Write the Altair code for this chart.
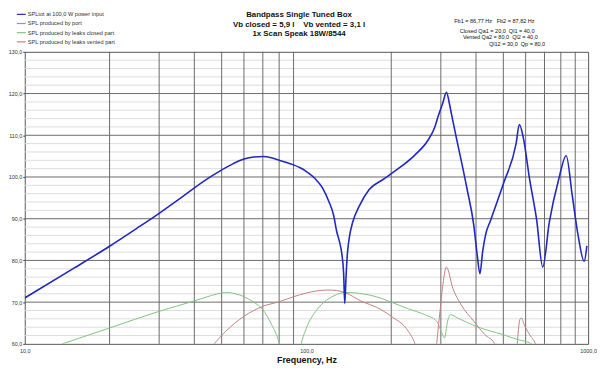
import altair as alt
import pandas as pd

# ---------------- data ----------------
blue_f = [10, 15, 20, 25, 30, 35, 40, 45, 48.9, 55, 60, 65, 70.3, 75, 80, 85, 90, 95,
          100, 107, 114, 120, 125, 128, 131, 133.6, 135.5, 136.8, 138.2, 139.6,
          142, 146, 154, 167, 187, 207, 243, 270, 285, 293, 305, 314, 322, 327, 340,
          354, 372, 393, 404, 413, 422, 432, 451, 501, 555, 570, 588, 620, 656, 690,
          728, 786, 836, 879, 922, 968, 990]
blue_db = [71.0, 78.2, 83.4, 87.7, 91.3, 94.5, 97.4, 99.8, 101.3, 103.2, 104.3, 104.8,
           104.9, 104.6, 104.0, 103.5, 102.9, 102.2, 101.3, 99.7, 97.4, 94.2, 90.7,
           87.0, 84.5, 81.5, 77.0, 69.7, 76.0, 81.2, 85.5, 89.2, 93.0, 97.0, 99.4, 101.5,
           105.3, 108.8, 111.8, 114.4, 117.8, 120.3, 117.5, 115.2, 109.6, 104.1, 97.0,
           88.3, 81.2, 76.8, 82.0, 86.0, 89.7, 98.5, 108.0, 112.6, 109.6, 99.4, 89.9,
           78.4, 89.1, 99.4, 105.1, 95.4, 85.9, 79.8, 83.5]

green_f = [13.6, 20, 30, 40, 46, 50, 52.5, 56, 60, 65, 70, 75.2, 80, 83, 88, 93, 96, 100,
           109, 118, 125, 137, 150, 158, 177, 200, 230, 263, 290, 301, 309, 317, 325,
           344, 400, 500, 564, 580, 606, 630, 660]
green_db = [60.0, 63.8, 67.8, 70.3, 71.6, 72.2, 72.3, 72.0, 71.3, 70.0, 68.2, 64.6, 60.2,
            55.0, 40.0, 55.0, 60.2, 63.8, 68.2, 70.5, 71.5, 72.3, 72.2, 72.0, 71.3, 70.0,
            68.4, 67.0, 65.4, 63.0, 61.4, 65.4, 67.0, 66.2, 64.2, 62.2, 61.0, 60.8, 60.5,
            60.0, 59.0]

red_f = [45, 47, 51.7, 60, 70, 80, 90, 109, 118, 128, 137, 158, 177, 200, 230, 243, 255,
         270, 283, 290, 298, 304, 314, 331, 354, 393, 430, 466, 490, 520, 550, 560, 572,
         580, 593, 620, 650, 680]
red_db = [58.5, 60.0, 63.0, 66.6, 69.0, 70.1, 71.3, 72.7, 72.9, 72.8, 72.3, 70.1, 68.8,
          66.6, 63.0, 60.0, 55.0, 45.0, 52.0, 60.0, 67.8, 73.3, 78.4, 73.3, 69.4, 65.4,
          62.2, 60.0, 56.0, 50.0, 55.0, 60.0, 65.8, 66.2, 64.6, 62.2, 60.0, 55.0]

series_names = ["SPLtot at 100,0 W power input", "SPL produced by port",
                "SPL produced by leaks closed part", "SPL produced by leaks vented part"]
series_colors = ["#2028c0", "#8c8cf0", "#80c480", "#c48080"]

y_major = [70, 80, 90, 100, 110, 120]
y_minor = [v for v in range(62, 130, 2) if v % 10 != 0]
x_grid = [20, 30, 40, 50, 60, 70, 80, 90, 200, 300, 400, 500, 600, 700, 800, 900]
x_labels = [10, 100, 1000]
y_labels = [60, 70, 80, 90, 100, 110, 120, 130]

NB = "\u00a0"
title_lines = ["Bandpass Single Tuned Box",
               "Vb closed = 5,9 l" + NB * 4 + "Vb vented = 3,1 l",
               "1x Scan Speak 18W/8544"]
param_lines = ["Fb1 = 86,77 Hz" + NB * 3 + "Fb2 = 87,82 Hz",
               "Closed Qa1 = 20,0" + NB * 2 + "Ql1 = 40,0",
               "Vented Qa2 = 80,0" + NB * 2 + "Ql2 = 40,0",
               "Ql12 = 30,0" + NB * 2 + "Qp = 80,0"]

# ---------------- build tables ----------------
df_blue = pd.DataFrame({"f": blue_f, "db": blue_db, "s": series_names[0]})
df_other = pd.concat([
    pd.DataFrame({"f": green_f, "db": green_db, "s": series_names[2]}),
    pd.DataFrame({"f": red_f, "db": red_db, "s": series_names[3]}),
])

FONT = "Liberation Sans"
PL = 17            # left padding -> plot starts at page x = 25
W, H = 571, 296
xs = alt.Scale(type="log", domain=[10, 1000], nice=False)
ys = alt.Scale(domain=[60, 130], nice=False, zero=False)
cs = alt.Scale(domain=series_names, range=series_colors)

legend = alt.Legend(orient="none", legendX=-9, legendY=-43.5, title=None, padding=0,
                    symbolType="stroke", symbolSize=81, symbolStrokeWidth=1.2,
                    labelFontSize=5.7, labelFont=FONT, labelColor="#333333",
                    rowPadding=0.3, labelOffset=1, labelLimit=300)

x_axis = alt.Axis(values=x_labels, labelExpr="replace(format(datum.value, '.1f'), '.', ',')",
                  labelFontSize=5.5, labelFont=FONT, labelColor="#333333", ticks=False,
                  labelPadding=5, domain=False, grid=False, title="Frequency, Hz",
                  titleFont=FONT, titleFontSize=9, titleFontWeight="bold",
                  titleColor="#111111", titlePadding=1, labelFlush=False)
y_axis = alt.Axis(values=y_labels, labelExpr="replace(format(datum.value, '.1f'), '.', ',')",
                  labelFontSize=5.5, labelFont=FONT, labelColor="#333333", tickSize=2,
                  tickColor="#444444", labelPadding=1, domain=False, grid=False, title=None)

minor_rules = alt.Chart(pd.DataFrame({"v": y_minor})).mark_rule(
    color="#dcdcdc", strokeWidth=1).encode(y=alt.Y("v:Q", scale=ys, axis=y_axis))
major_rules = alt.Chart(pd.DataFrame({"v": y_major})).mark_rule(
    color="#6a6a6a", strokeWidth=1).encode(y=alt.Y("v:Q", scale=ys, axis=y_axis))
vert_rules = alt.Chart(pd.DataFrame({"v": x_grid})).mark_rule(
    color="#6a6a6a", strokeWidth=1).encode(x=alt.X("v:Q", scale=xs, axis=x_axis))

other_lines = alt.Chart(df_other).mark_line(strokeWidth=1, clip=True, interpolate="monotone").encode(
    x=alt.X("f:Q", scale=xs, axis=x_axis),
    y=alt.Y("db:Q", scale=ys, axis=y_axis),
    color=alt.Color("s:N", scale=cs, legend=legend),
)
blue_line = alt.Chart(df_blue).mark_line(strokeWidth=1.6, clip=True, interpolate="monotone").encode(
    x=alt.X("f:Q", scale=xs, axis=x_axis),
    y=alt.Y("db:Q", scale=ys, axis=y_axis),
    color=alt.Color("s:N", scale=cs, legend=legend),
)

one = pd.DataFrame({"a": [0]})
def txt(t, x, y, size, bold=False, align="center"):
    return alt.Chart(one).mark_text(text=t, font=FONT, fontSize=size,
                                    fontWeight="bold" if bold else "normal",
                                    color="#111111", align=align, baseline="middle",
                                    clip=False).encode(x=alt.value(x), y=alt.value(y))

texts = [
    txt(title_lines[0], 278, -37, 8, True),
    txt(title_lines[1], 278, -27.5, 8, True),
    txt(title_lines[2], 278, -18, 8, True),
    txt(param_lines[0], 476, -31.5, 5.6),
    txt(param_lines[1], 478.7, -21.5, 5.6),
    txt(param_lines[2], 482, -14.5, 5.6),
    txt(param_lines[3], 499, -7.5, 5.6),
]

chart = alt.layer(minor_rules, major_rules, vert_rules, other_lines, blue_line, *texts).properties(
    width=W, height=H,
    autosize=alt.AutoSizeParams(type="none"),
    padding={"left": PL, "top": 42, "right": 9, "bottom": 19},
    background="white",
).configure_view(stroke="#555555", strokeWidth=1)

chart.save("out.html", embed_options={"renderer": "svg", "actions": False})
